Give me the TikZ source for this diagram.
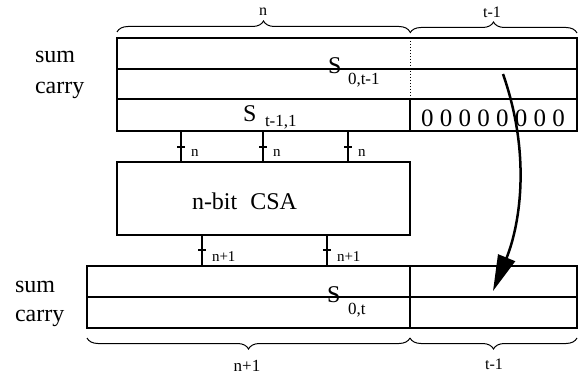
\documentclass[tikz,border=0pt]{standalone}
\usepackage{fontspec}
\setmainfont{Liberation Serif}
\usetikzlibrary{arrows.meta,decorations.pathreplacing}

\begin{document}
\begin{tikzpicture}[
    x=1pt, y=-1pt,
    every node/.style={inner sep=0pt, outer sep=0pt},
    regbox/.style={draw, line width=1.3pt, anchor=north west},
    bigtext/.style={font=\fontsize{24}{24}\selectfont, anchor=base west},
    subtext/.style={font=\fontsize{17}{17}\selectfont, anchor=base west},
    widthtext/.style={font=\fontsize{15}{15}\selectfont, anchor=base west},
    bracetext/.style={font=\fontsize{16}{16}\selectfont},
    bus/.style={line width=1.2pt},
    bracket/.style={decorate, decoration={brace, amplitude=11pt}, line width=1pt},
]

% X positions
\def\xl{117}
\def\xm{410}
\def\xr{577}
\def\xbl{87}

% Y coordinates
\def\ya{38}
\def\yb{69}
\def\yc{99}
\def\yd{131}
\def\csay{162}
\def\yba{266}
\def\ybb{297}
\def\ybc{328}

\useasboundingbox (0,0) rectangle (588,374);

% Partial sum register
\node[regbox, minimum width=460pt, minimum height=93pt] (topreg) at (\xl,\ya) {};
\draw[line width=1.3pt] (\xl,\yb) -- (\xr,\yb);
\draw[line width=1.3pt] (\xl,\yc) -- (\xr,\yc);
\draw[line width=1pt, dotted] (\xm,\ya) -- (\xm,\yc);
\draw[line width=1.3pt] (\xm,\yc) -- (\xm,\yd);

\node[bigtext] (sumtop) at (35,63) {sum};
\node[bigtext] (carrytop) at (35,94) {carry};

\node[bigtext] (s0t1) at (328,74) {S};
\node[subtext] (s0t1sub) at (348,85) {0,t-1};
\node[bigtext] (st11) at (243,122) {S};
\node[subtext] (st11sub) at (265,127) {t-1,1};
\node[bigtext, font=\fontsize{25}{25}\selectfont] (zeros) at (421,127) {0 0 0 0 0 0 0 0};

% Braces above
\draw[bracket] (\xl,32) -- (\xm,32);
\draw[bracket] (\xm,33) -- (\xr,33);
\node[bracetext] (nwidth) at (263,12) {n};
\node[bracetext] (twidth) at (492,12) {t-1};

% CSA
\node[regbox, minimum width=293pt, minimum height=73pt] (csa) at (\xl,\csay) {};
\node[bigtext] (csatext) at (192,209) {n-bit\hspace{13pt}CSA};

% New partial sum register
\node[regbox, minimum width=490pt, minimum height=62pt] (botreg) at (\xbl,\yba) {};
\draw[line width=1.3pt] (\xbl,\ybb) -- (\xr,\ybb);
\draw[line width=1.3pt] (\xm,\yba) -- (\xm,\ybc);

\node[bigtext] (sumbot) at (15,292) {sum};
\node[bigtext] (carrybot) at (15,321) {carry};

\node[bigtext] (s0t) at (327,302) {S};
\node[subtext] (s0tsub) at (348,314) {0,t};

% Buses into the CSA
\foreach \x in {181, 263, 348} {
    \coordinate (in\x) at (\x,0);
    \draw[bus] (in\x |- topreg.south) -- (in\x |- csa.north);
    \draw[bus] (\x-4,147) -- (\x+4,147);
    \node[widthtext] (inlab\x) at (\x+10,157) {n};
}

% Buses out of the CSA
\foreach \x in {202, 327} {
    \coordinate (out\x) at (\x,0);
    \draw[bus] (out\x |- csa.south) -- (out\x |- botreg.north);
    \draw[bus] (\x-4,250) -- (\x+4,250);
    \node[widthtext] (outlab\x) at (\x+10,261) {n+1};
}

% Braces below
\draw[bracket] (\xm,338) -- (\xbl,338);
\draw[bracket] (\xr,338) -- (\xm,338);
\node[bracetext, font=\fontsize{17}{17}\selectfont] (nonewidth) at (247,366) {n+1};
\node[bracetext] (tbotwidth) at (494,364) {t-1};

% Shift arrow
\coordinate (shiftfrom) at (503,74);
\coordinate (shiftto) at (493,291);
\draw[line width=2.5pt, -{Triangle[length=36pt, width=18pt]}]
    (shiftfrom) .. controls (533,160) and (518,230) .. (shiftto);

\end{tikzpicture}
\end{document}
